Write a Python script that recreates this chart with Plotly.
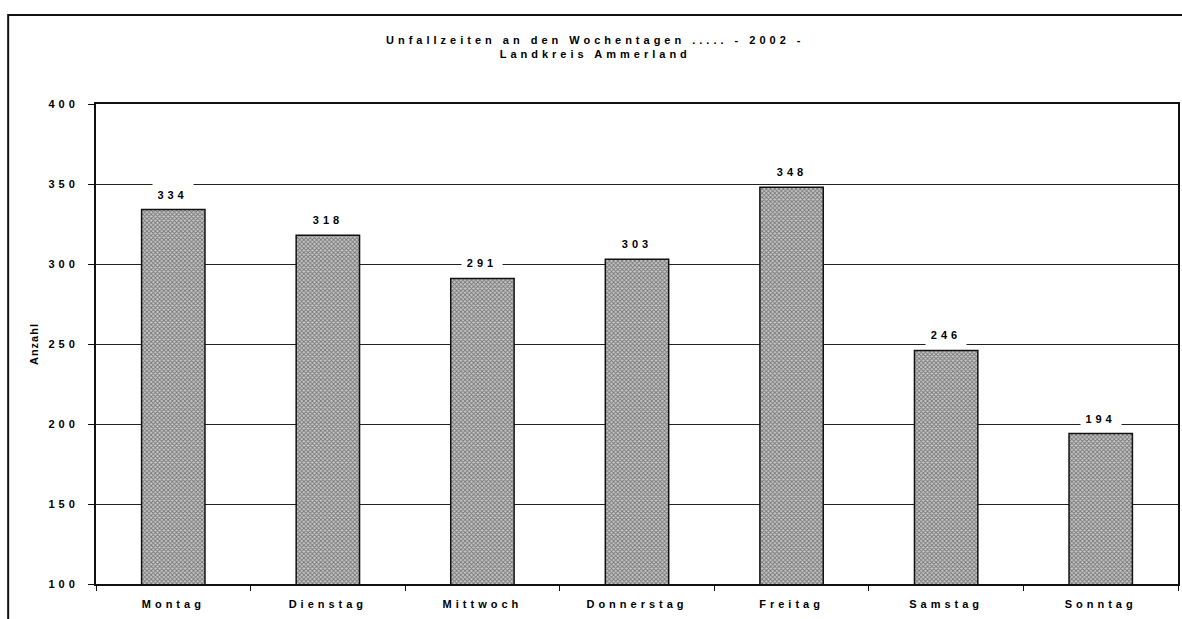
import plotly.graph_objects as go

days = ["Montag", "Dienstag", "Mittwoch", "Donnerstag", "Freitag", "Samstag", "Sonntag"]
counts = [334, 318, 291, 303, 348, 246, 194]
y_ticks = [100, 150, 200, 250, 300, 350, 400]
title_lines = ["Unfallzeiten an den Wochentagen ..... - 2002 -", "Landkreis Ammerland"]
y_title = "Anzahl"

FONT = "Liberation Sans, Arial, sans-serif"
FS = 11
W, H = 1182, 619
L, R, T, B = 96, 2, 104, 35
pw, ph = W - L - R, H - T - B

fig = go.Figure()
fig.add_trace(go.Bar(
    x=days, y=counts,
    marker=dict(
        color="#808080",
        line=dict(color="#111111", width=1.5),
        pattern=dict(shape="x", size=3, fgcolor="#222222", bgcolor="#c8c8c8", solidity=0.5),
    ),
    hoverinfo="skip",
))

for d, c in zip(days, counts):
    fig.add_annotation(
        x=d, y=c, xref="x", yref="y", text=str(c), showarrow=False,
        yshift=15, bgcolor="white", borderpad=5, width=30,
        font=dict(family=FONT, size=FS, color="black", weight="bold"),
    )

fig.add_annotation(
    x=(596 - L) / pw, y=(H - B - 47) / ph, xref="paper", yref="paper",
    xanchor="center", yanchor="middle", text="<br>".join(title_lines),
    showarrow=False, font=dict(family=FONT, size=FS, color="black", weight="bold"),
)

# outer frame
fig.add_shape(type="rect", xref="paper", yref="paper",
              x0=(8 - L) / pw, x1=1.2, y0=-0.3, y1=(H - B - 15) / ph,
              line=dict(color="#111111", width=2), fillcolor="rgba(0,0,0,0)", layer="below")

fig.update_layout(
    width=W, height=H,
    margin=dict(l=L, r=R, t=T, b=B),
    paper_bgcolor="white", plot_bgcolor="white",
    bargap=0.59, showlegend=False,
    font=dict(family=FONT, size=FS, color="black"),
    xaxis=dict(
        type="category", showline=True, mirror=True, linecolor="#111111", linewidth=2,
        ticks="outside", tickson="boundaries", ticklen=5, tickcolor="#111111", tickwidth=1,
        showgrid=False, tickfont=dict(family=FONT, size=FS, weight="bold"),
        ticklabelstandoff=9,
    ),
    yaxis=dict(
        range=[100, 400], tickvals=y_ticks, showline=True, mirror=True,
        linecolor="#111111", linewidth=2, ticks="outside", ticklen=6, tickcolor="#111111",
        showgrid=True, gridcolor="#222222", gridwidth=1, zeroline=False,
        tickfont=dict(family=FONT, size=FS, weight="bold"), ticklabelstandoff=7,
        title=dict(text=y_title, font=dict(family=FONT, size=FS, weight="bold"), standoff=20),
    ),
)

post = """
document.body.style.margin='0';
document.querySelectorAll('.main-svg text').forEach(function(t){t.style.letterSpacing='4px';});
document.querySelectorAll('.g-ytitle text').forEach(function(t){t.style.letterSpacing='1px';});
"""
fig.write_html("out.html", post_script=post, config={"displayModeBar": False})
